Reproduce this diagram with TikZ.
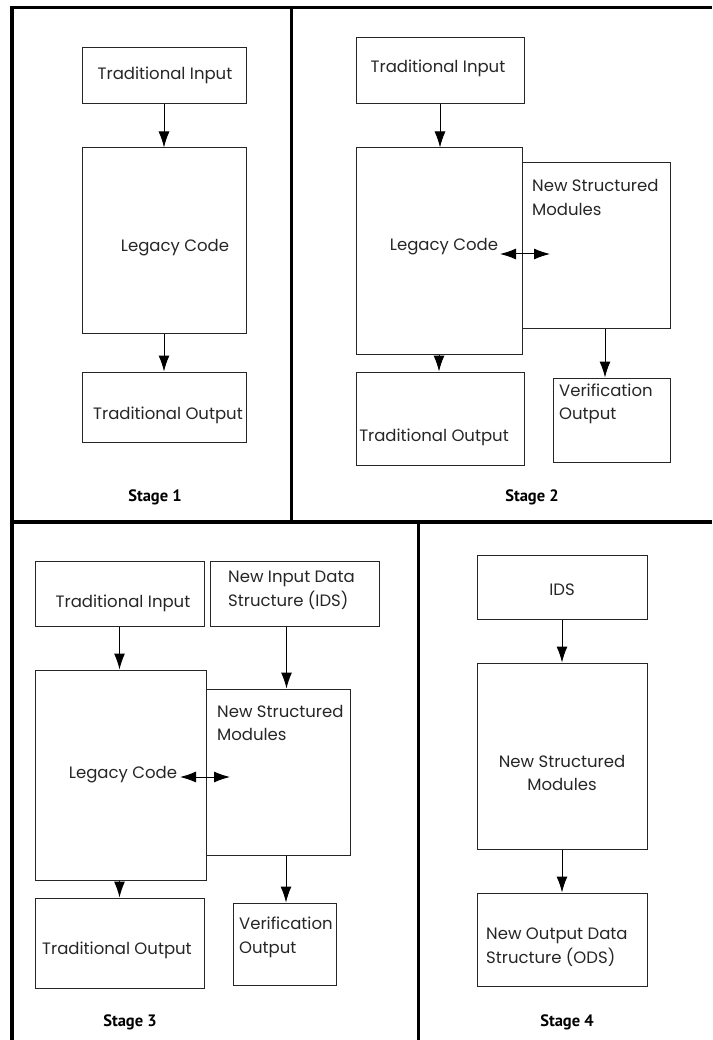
\documentclass[tikz,border=0pt]{standalone}
\usepackage{fontspec}
\setmainfont{Poppins}
\newfontfamily\stagefont{PT Sans}
\usepackage{tikz}
\usetikzlibrary{arrows.meta}
\tikzstyle{arrow} = [line width=1pt,-{Latex[length=16pt,width=11pt]}]
\tikzstyle{twoway} = [line width=1pt,{Latex[length=16pt,width=11pt]}-{Latex[length=16pt,width=11pt]}]
\tikzstyle{box} = [rectangle, draw=black!85, line width=1pt, inner sep=0pt]
\tikzstyle{txt} = [font=\fontsize{16.5}{23.5}\selectfont, text=black!85, align=left, inner sep=0pt]
\tikzstyle{stage} = [font=\stagefont\bfseries\fontsize{16.5}{18}\selectfont, inner sep=0pt]
\tikzstyle{frame} = [line width=3.5pt]

\begin{document}
\begin{tikzpicture}[x=1pt, y=-1pt]
    \useasboundingbox (0,0) rectangle (712,1040);
    % Frame
    \draw [frame] (10,7.5) -- (712,7.5);
    \draw [frame] (12,7.5) -- (12,1040);
    \draw [frame] (291.5,7.5) -- (291.5,522);
    \draw [frame] (12,522) -- (712,522);
    \draw [frame] (418.5,522) -- (418.5,1040);

    % Stage 1
    \node (s1input) [box, minimum width=164, minimum height=56] at (164,76) {};
    \node (s1legacy) [box, minimum width=164, minimum height=185] at (164,240.5) {};
    \node (s1output) [box, minimum width=164, minimum height=70] at (164,407) {};
    \node (s1input-t) [txt] at (165,75) {Traditional Input};
    \node (s1legacy-t) [txt] at (175,248) {Legacy Code};
    \node (s1output-t) [txt] at (168,415) {Traditional Output};
    \node (stage1) [stage] at (155,497) {Stage 1};
    \draw [arrow] (s1input) -- (s1legacy);
    \draw [arrow] (s1legacy) -- (s1output);

    % Stage 2
    \node (s2input) [box, minimum width=168, minimum height=66] at (440,71) {};
    \node (s2legacy) [box, minimum width=166, minimum height=206] at (439,251) {};
    \node (s2nsm) [box, minimum width=148, minimum height=165] at (596,245.5) {};
    \node (s2output) [box, minimum width=168, minimum height=93] at (440,418.5) {};
    \node (s2verif) [box, minimum width=117, minimum height=84] at (611.5,420) {};
    \node (s2input-t) [txt] at (438,68) {Traditional Input};
    \node (s2legacy-t) [txt] at (444,247) {Legacy Code};
    \node (s2nsm-t) [txt, anchor=west] at (532,197.5) {New Structured\\Modules};
    \node (s2output-t) [txt] at (434,437) {Traditional Output};
    \node (s2verif-t) [txt, anchor=west] at (559,404) {Verification\\Output};
    \node (stage2) [stage] at (532,497) {Stage 2};
    \coordinate (s2l) at (500,254);
    \coordinate (s2r) at (550,254);
    \draw [arrow] (s2input.south) -- (s2input.south |- s2legacy.north);
    \draw [arrow] (s2legacy.south) -- (s2legacy.south |- s2output.north);
    \draw [arrow] ([xshift=9pt]s2nsm.south) -- ([xshift=9pt]s2nsm.south |- s2verif.north);
    \draw [twoway] (s2l) -- (s2r);

    % Stage 3
    \node (s3input) [box, minimum width=169, minimum height=65] at (119.5,593.5) {};
    \node (s3ids) [box, minimum width=169, minimum height=65] at (294.5,593.5) {};
    \node (s3legacy) [box, minimum width=171, minimum height=210] at (120.5,775) {};
    \node (s3nsm) [box, minimum width=144, minimum height=166] at (278,772) {};
    \node (s3output) [box, minimum width=169, minimum height=90] at (119.5,943) {};
    \node (s3verif) [box, minimum width=103, minimum height=82] at (284.5,944) {};
    \node (s3input-t) [txt] at (123,603) {Traditional Input};
    \node (s3ids-t) [txt, anchor=west] at (228,590.5) {New Input Data\\Structure (IDS)};
    \node (s3legacy-t) [txt] at (123,775) {Legacy Code};
    \node (s3nsm-t) [txt, anchor=west] at (217,723) {New Structured\\Modules};
    \node (s3output-t) [txt] at (117,950) {Traditional Output};
    \node (s3verif-t) [txt, anchor=west] at (239,937.5) {Verification\\Output};
    \node (stage3) [stage] at (130,1022) {Stage 3};
    \coordinate (s3l) at (180,777);
    \coordinate (s3r) at (230,777);
    \draw [arrow] (s3input.south) -- (s3input.south |- s3legacy.north);
    \draw [arrow] ([xshift=-8pt]s3ids.south) -- ([xshift=-8pt]s3ids.south |- s3nsm.north);
    \draw [arrow] (s3output.north |- s3legacy.south) -- (s3output.north);
    \draw [arrow] ([xshift=8pt]s3nsm.south) -- ([xshift=8pt]s3nsm.south |- s3verif.north);
    \draw [twoway] (s3l) -- (s3r);

    % Stage 4
    \node (s4ids) [box, minimum width=170, minimum height=64] at (562,587) {};
    \node (s4nsm) [box, minimum width=170, minimum height=186] at (562,756) {};
    \node (s4ods) [box, minimum width=170, minimum height=93] at (562,939.5) {};
    \node (s4ids-t) [txt] at (562,590) {IDS};
    \node (s4nsm-t) [txt, align=center] at (562,773) {New Structured\\Modules};
    \node (s4ods-t) [txt, anchor=west] at (486,947) {New Output Data\\Structure (ODS)};
    \node (stage4) [stage] at (567,1022) {Stage 4};
    \draw [arrow] (s4ids) -- (s4nsm);
    \draw [arrow] (s4nsm) -- (s4ods);
\end{tikzpicture}
\end{document}
